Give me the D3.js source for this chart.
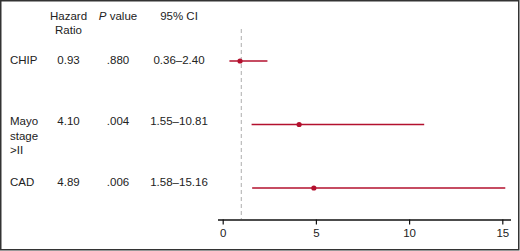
<!DOCTYPE html>
<html><head><meta charset="utf-8">
<script src="https://cdn.jsdelivr.net/npm/d3@7"></script>
<style>
html,body{margin:0;padding:0;background:#fff;}
svg{display:block;font-family:"Liberation Sans",Arial,Helvetica,sans-serif;}
</style></head>
<body>
<svg id="c" width="520" height="251"></svg>
<script>
const categories = ["CHIP", "Mayo stage >II", "CAD"];
const labelLines = [["CHIP"], ["Mayo", "stage", ">II"], ["CAD"]];
const hazardRatio = [0.93, 4.10, 4.89];
const pValues = [".880", ".004", ".006"];
const ciLow = [0.36, 1.55, 1.58];
const ciHigh = [2.40, 10.81, 15.16];
const ciText = ["0.36\u20132.40", "1.55\u201310.81", "1.58\u201315.16"];
const xTicks = [0, 5, 10, 15];
const refValue = 1;

const svg = d3.select("#c");
const W = 520, H = 251;
const red = "#b3102e";

// frame
svg.append("rect").attr("x", 0.75).attr("y", 0.75).attr("width", 518).attr("height", 249)
  .attr("fill", "none").attr("stroke", "#333").attr("stroke-width", 1.5);

const x = d3.scaleLinear().domain([0, 15]).range([222.7, 502.3]);
const y = d3.scalePoint().domain(categories).range([61, 188]);
// text row positions (text rows sit slightly differently from the marks)
const textY = d3.scalePoint().domain(categories).range([60, 182]);

// reference dashed line
svg.append("line").attr("x1", x(refValue)).attr("x2", x(refValue))
  .attr("y1", 29).attr("y2", 219)
  .attr("stroke", "#bbb").attr("stroke-width", 1.2).attr("stroke-dasharray", "4,3");

// axis
const axis = d3.axisBottom(x).tickValues(xTicks).tickSize(5).tickPadding(4).tickFormat(d3.format("d"));
const gx = svg.append("g").attr("transform", "translate(0,219.5)").call(axis);
gx.select(".domain").attr("d", "M218,0.5H511").attr("stroke", "#111").attr("stroke-width", 1.5);
gx.selectAll(".tick line").attr("stroke", "#111").attr("stroke-width", 1.2);
gx.selectAll(".tick text").attr("font-size", "11.5px").attr("fill", "#222")
  .attr("font-family", "Liberation Sans, Arial, sans-serif");

// CI lines and points
const rows = categories.map((c, i) => ({c, i}));
svg.selectAll(".ci").data(rows).join("line")
  .attr("x1", d => x(ciLow[d.i])).attr("x2", d => x(ciHigh[d.i]))
  .attr("y1", d => y(d.c)).attr("y2", d => y(d.c))
  .attr("stroke", red).attr("stroke-width", 1.6);
svg.selectAll(".pt").data(rows).join("circle")
  .attr("cx", d => x(hazardRatio[d.i])).attr("cy", d => y(d.c)).attr("r", 2.6)
  .attr("fill", red);

// headers
const fs = "11.5px";
const colX = {hr: 68.5, p: 118, ci: 179};
const hdr = svg.append("g").attr("font-size", fs).attr("fill", "#222").attr("text-anchor", "middle");
hdr.append("text").attr("x", colX.hr).attr("y", 20).text("Hazard");
hdr.append("text").attr("x", colX.hr).attr("y", 34).text("Ratio");
const pt = hdr.append("text").attr("x", colX.p).attr("y", 20);
pt.append("tspan").attr("font-style", "italic").text("P");
pt.append("tspan").text(" value");
hdr.append("text").attr("x", colX.ci).attr("y", 20).text("95% CI");

// rows
const tg = svg.append("g").attr("font-size", fs).attr("fill", "#222");
rows.forEach(d => {
  const ty = textY(d.c) + 4;
  labelLines[d.i].forEach((ln, k) => {
    tg.append("text").attr("x", 10).attr("y", ty + k * 14.5).text(ln);
  });
  tg.append("text").attr("x", colX.hr).attr("y", ty).attr("text-anchor", "middle").text(hazardRatio[d.i].toFixed(2));
  tg.append("text").attr("x", colX.p).attr("y", ty).attr("text-anchor", "middle").text(pValues[d.i]);
  tg.append("text").attr("x", colX.ci).attr("y", ty).attr("text-anchor", "middle").text(ciText[d.i]);
});
</script>
</body></html>
